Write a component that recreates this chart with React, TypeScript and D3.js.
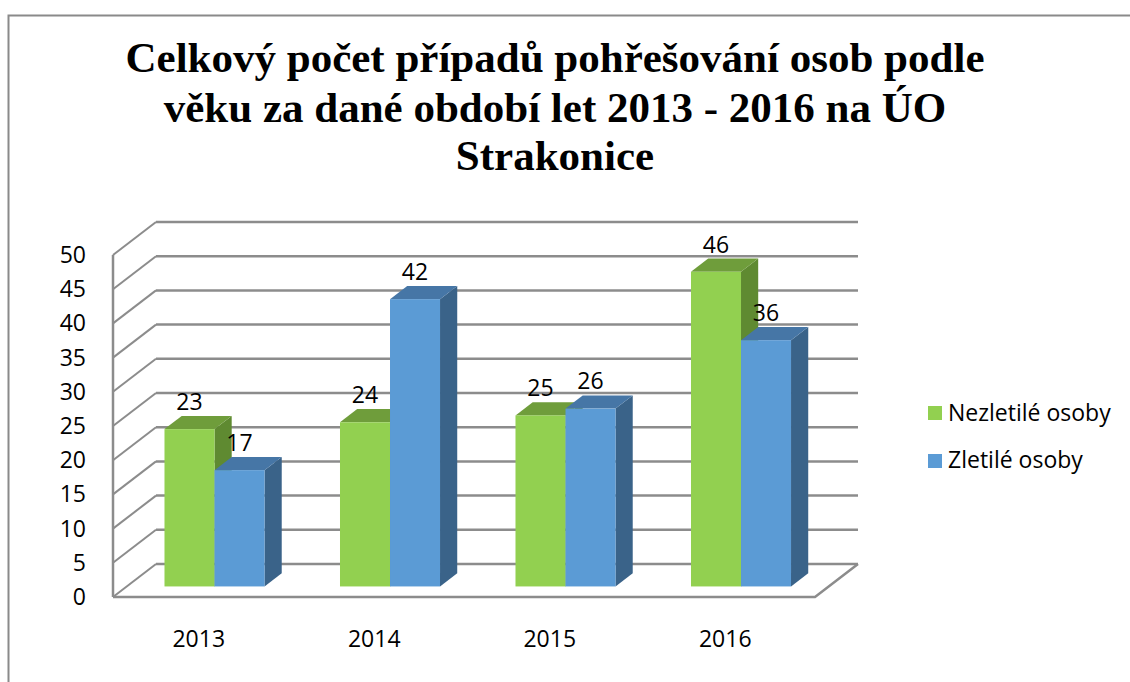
import React from "react";
import * as d3 from "d3";

const years = ["2013", "2014", "2015", "2016"];
const seriesNames = ["Nezletilé osoby", "Zletilé osoby"];
const minors = [23, 24, 25, 46];
const adults = [17, 42, 26, 36];
const yTicks = [0, 5, 10, 15, 20, 25, 30, 35, 40, 45, 50];
const titleLines = [
  "Celkový počet případů pohřešování osob podle",
  "věku za dané období let 2013 - 2016 na ÚO",
  "Strakonice",
];

const W = 1130;
const H = 682;
const DX = 43;
const DY = -33;
const D1 = 0.32;
const D2 = 0.72;

const colors = [
  { front: "#92D050", top: "#6F9D3B", side: "#5F8A31" },
  { front: "#5B9BD5", top: "#4676A6", side: "#3A6389" },
];

const font = "'Open Sans', 'Noto Sans', sans-serif";
const FS = 23;

export default function App() {
  const x = d3.scaleBand<string>().domain(years).range([113, 815]);
  const y = d3.scaleLinear().domain([0, 50]).range([597, 255]);
  const bw = x.bandwidth() * 0.285;
  const values = [minors, adults];
  const grid = "#8c8c8c";

  const bars: React.ReactNode[] = [];
  const labels: React.ReactNode[] = [];
  years.forEach((yr, i) => {
    const cx = (x(yr) as number) + x.bandwidth() / 2 + DX * D1;
    [0, 1].forEach((s) => {
      const v = values[s][i];
      const x0 = cx - bw + s * bw;
      const x1 = x0 + bw;
      const yb = y(0) + DY * D1;
      const yt = y(v) + DY * D1;
      const ddx = DX * (D2 - D1);
      const ddy = DY * (D2 - D1);
      const c = colors[s];
      bars.push(
        <g key={`${yr}-${s}`}>
          <polygon
            points={`${x1},${yt} ${x1 + ddx},${yt + ddy} ${x1 + ddx},${yb + ddy} ${x1},${yb}`}
            fill={c.side}
          />
          <polygon
            points={`${x0},${yt} ${x0 + ddx},${yt + ddy} ${x1 + ddx},${yt + ddy} ${x1},${yt}`}
            fill={c.top}
          />
          <rect x={x0} y={yt} width={bw} height={yb - yt} fill={c.front} />
        </g>
      );
      labels.push(
        <text
          key={`l-${yr}-${s}`}
          x={x0 + bw / 2}
          y={yt + ddy - 6}
          textAnchor="middle"
          fontFamily={font}
          fontSize={FS}
          fill="#000"
        >
          {v}
        </text>
      );
    });
  });

  const bx0 = 113 + DX;
  const bx1 = 815 + DX;

  return (
    <svg width={W} height={H} style={{ position: "absolute", left: 0, top: 0 }}>
      <rect x={0} y={0} width={W} height={H} fill="#fff" />
      <path d={`M8.5,${H} V15.5 H${W}`} fill="none" stroke="#8a8a8a" strokeWidth={2} />
      {titleLines.map((t, i) => (
        <text
          key={i}
          x={555}
          y={[72, 122, 170][i]}
          textAnchor="middle"
          fontFamily="'Liberation Serif', 'Times New Roman', serif"
          fontWeight="bold"
          fontSize={43}
          fill="#000"
        >
          {t}
        </text>
      ))}
      {yTicks.map((t) => (
        <g key={t}>
          <line x1={bx0} x2={bx1} y1={y(t) + DY} y2={y(t) + DY} stroke={grid} strokeWidth={2.5} />
          <line x1={113} x2={bx0} y1={y(t)} y2={y(t) + DY} stroke={grid} strokeWidth={2} />
          <text
            x={86}
            y={y(t) + 8}
            textAnchor="end"
            fontFamily={font}
            fontSize={FS}
            fill="#000"
          >
            {t}
          </text>
        </g>
      ))}
      <line x1={113} x2={113} y1={y(0)} y2={y(50)} stroke={grid} strokeWidth={2.5} />
      {bars}
      <path
        d={`M113,${y(0)} H815 L${815 + DX},${y(0) + DY}`}
        fill="none"
        stroke={grid}
        strokeWidth={2.5}
      />
      {labels}
      {years.map((yr) => (
        <text
          key={yr}
          x={(x(yr) as number) + x.bandwidth() / 2 - 2}
          y={647}
          textAnchor="middle"
          fontFamily={font}
          fontSize={FS}
          fill="#000"
        >
          {yr}
        </text>
      ))}
      {seriesNames.map((n, i) => (
        <g key={n}>
          <rect x={928} y={406 + i * 48} width={14} height={14} fill={colors[i].front} />
          <text x={948} y={421 + i * 47} fontFamily={font} fontSize={FS} fill="#000">
            {n}
          </text>
        </g>
      ))}
    </svg>
  );
}
